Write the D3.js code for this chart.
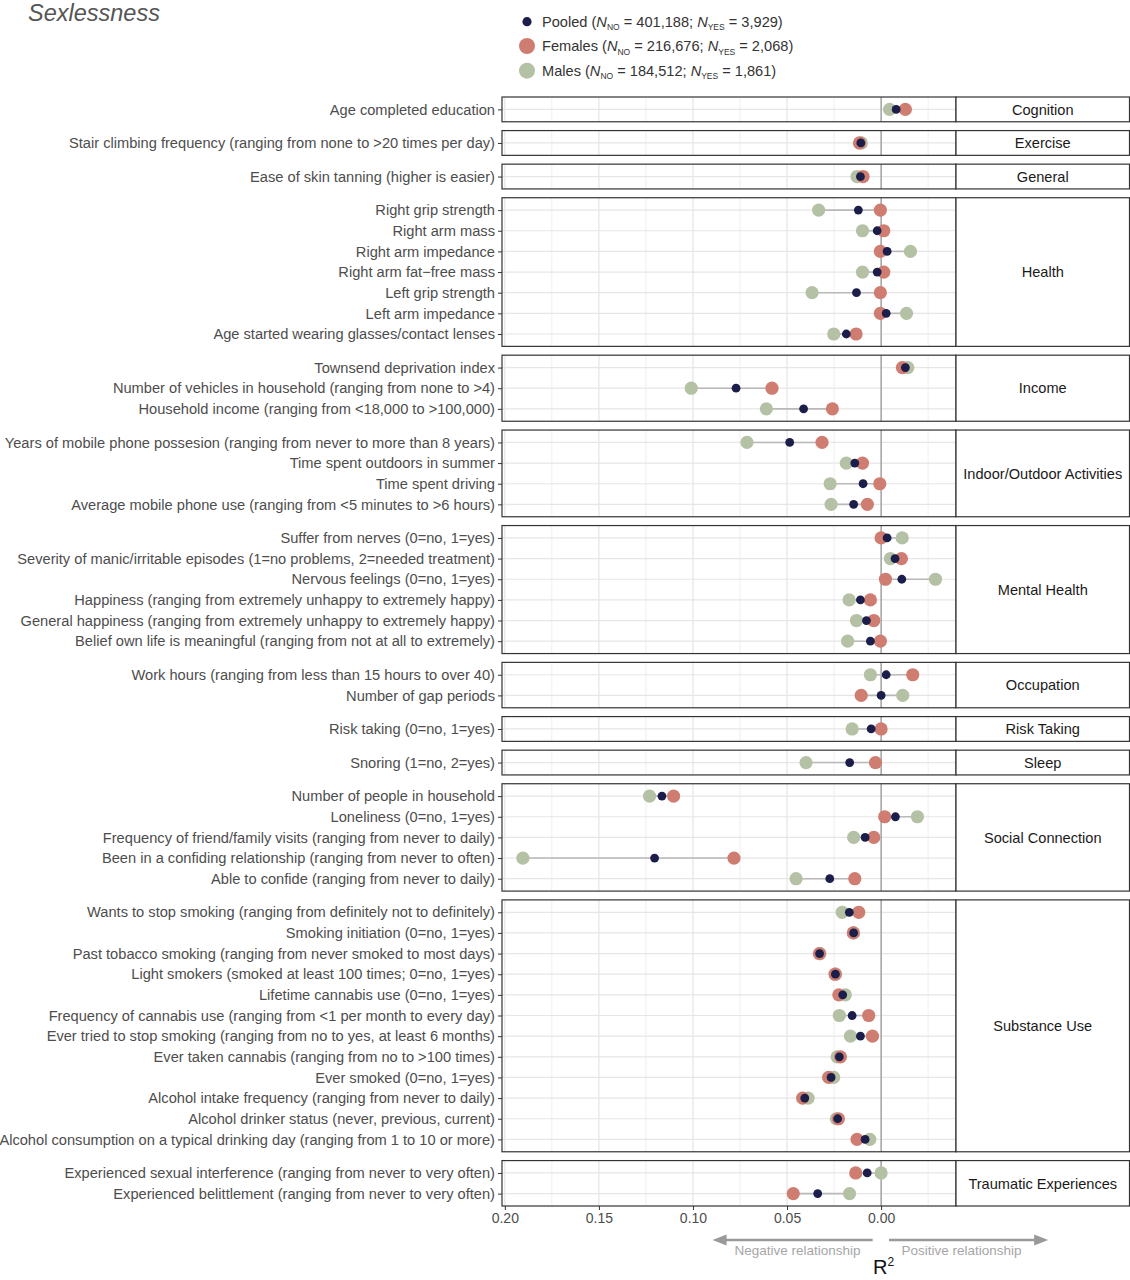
<!DOCTYPE html>
<html><head><meta charset="utf-8">
<script src="https://cdn.jsdelivr.net/npm/d3@7"></script>
<style>
body{margin:0;background:#fff}
text{font-family:"Liberation Sans",Arial,Helvetica,sans-serif}
</style>
</head><body>
<svg id="chart" width="1130" height="1280"></svg>
<script>
// ---------------- DATA ----------------
const categories = [
  "Age completed education",
  "Stair climbing frequency (ranging from none to >20 times per day)",
  "Ease of skin tanning (higher is easier)",
  "Right grip strength",
  "Right arm mass",
  "Right arm impedance",
  "Right arm fat\u2212free mass",
  "Left grip strength",
  "Left arm impedance",
  "Age started wearing glasses/contact lenses",
  "Townsend deprivation index",
  "Number of vehicles in household (ranging from none to >4)",
  "Household income (ranging from <18,000 to >100,000)",
  "Years of mobile phone possesion (ranging from never to more than 8 years)",
  "Time spent outdoors in summer",
  "Time spent driving",
  "Average mobile phone use (ranging from <5 minutes to >6 hours)",
  "Suffer from nerves (0=no, 1=yes)",
  "Severity of manic/irritable episodes (1=no problems, 2=needed treatment)",
  "Nervous feelings (0=no, 1=yes)",
  "Happiness (ranging from extremely unhappy to extremely happy)",
  "General happiness (ranging from extremely unhappy to extremely happy)",
  "Belief own life is meaningful (ranging from not at all to extremely)",
  "Work hours (ranging from less than 15 hours to over 40)",
  "Number of gap periods",
  "Risk taking (0=no, 1=yes)",
  "Snoring (1=no, 2=yes)",
  "Number of people in household",
  "Loneliness (0=no, 1=yes)",
  "Frequency of friend/family visits (ranging from never to daily)",
  "Been in a confiding relationship (ranging from never to often)",
  "Able to confide (ranging from never to daily)",
  "Wants to stop smoking (ranging from definitely not to definitely)",
  "Smoking initiation (0=no, 1=yes)",
  "Past tobacco smoking (ranging from never smoked to most days)",
  "Light smokers (smoked at least 100 times; 0=no, 1=yes)",
  "Lifetime cannabis use (0=no, 1=yes)",
  "Frequency of cannabis use (ranging from <1 per month to every day)",
  "Ever tried to stop smoking (ranging from no to yes, at least 6 months)",
  "Ever taken cannabis (ranging from no to >100 times)",
  "Ever smoked (0=no, 1=yes)",
  "Alcohol intake frequency (ranging from never to daily)",
  "Alcohol drinker status (never, previous, current)",
  "Alcohol consumption on a typical drinking day (ranging from 1 to 10 or more)",
  "Experienced sexual interference (ranging from never to very often)",
  "Experienced belittlement (ranging from never to very often)"
];
const facetOf = [
  "Cognition","Exercise","General",
  "Health","Health","Health","Health","Health","Health","Health",
  "Income","Income","Income",
  "Indoor/Outdoor Activities","Indoor/Outdoor Activities","Indoor/Outdoor Activities","Indoor/Outdoor Activities",
  "Mental Health","Mental Health","Mental Health","Mental Health","Mental Health","Mental Health",
  "Occupation","Occupation",
  "Risk Taking","Sleep",
  "Social Connection","Social Connection","Social Connection","Social Connection","Social Connection",
  "Substance Use","Substance Use","Substance Use","Substance Use","Substance Use","Substance Use",
  "Substance Use","Substance Use","Substance Use","Substance Use","Substance Use","Substance Use",
  "Traumatic Experiences","Traumatic Experiences"
];
// signed R^2 as plotted (positive = negative relationship, left side)
const pooled = [
  -0.0080, 0.0108, 0.0110,
  0.0121, 0.0021, -0.0032, 0.0021, 0.0131, -0.0027, 0.0185,
  -0.0129, 0.0771, 0.0412,
  0.0486, 0.0140, 0.0096, 0.0146,
  -0.0032, -0.0074, -0.0110, 0.0110, 0.0078, 0.0057,
  -0.0027, 0.0000,
  0.0053, 0.0167,
  0.1165, -0.0076, 0.0085, 0.1204, 0.0273,
  0.0169, 0.0146, 0.0327, 0.0243, 0.0204, 0.0154, 0.0110, 0.0222, 0.0266, 0.0406, 0.0231, 0.0085,
  0.0074, 0.0337
];
const females = [
  -0.0129, 0.0115, 0.0096,
  0.0004, -0.0014, 0.0004, -0.0014, 0.0004, 0.0004, 0.0133,
  -0.0113, 0.0580, 0.0259,
  0.0314, 0.0099, 0.0007, 0.0073,
  0.0000, -0.0108, -0.0023, 0.0057, 0.0039, 0.0004,
  -0.0168, 0.0106,
  0.0000, 0.0030,
  0.1103, -0.0019, 0.0039, 0.0782, 0.0140,
  0.0119, 0.0148, 0.0328, 0.0245, 0.0225, 0.0066, 0.0046, 0.0216, 0.0279, 0.0417, 0.0227, 0.0128,
  0.0135, 0.0467
];
const males = [
  -0.0045, 0.0105, 0.0128,
  0.0332, 0.0099, -0.0156, 0.0099, 0.0367, -0.0135, 0.0252,
  -0.0142, 0.1009, 0.0610,
  0.0713, 0.0185, 0.0271, 0.0266,
  -0.0112, -0.0049, -0.0289, 0.0170, 0.0131, 0.0178,
  0.0057, -0.0115,
  0.0154, 0.0399,
  0.1231, -0.0193, 0.0146, 0.1904, 0.0452,
  0.0207, 0.0146, 0.0325, 0.0242, 0.0190, 0.0222, 0.0163, 0.0234, 0.0252, 0.0388, 0.0238, 0.0060,
  0.0000, 0.0168
];
const xTicks = [0.20, 0.15, 0.10, 0.05, 0.00];
const xMinor = [0.175, 0.125, 0.075, 0.025, -0.025];
const seriesNames = ["Pooled", "Females", "Males"];
const nNo = ["401,188", "216,676", "184,512"];
const nYes = ["3,929", "2,068", "1,861"];

// ---------------- STYLE ----------------
const colPooled = "#1b1e4a", colFem = "#cf7d70", colMale = "#b4c1a5";
const seriesColors = [colPooled, colFem, colMale];
const txtCol = "#4d4d4d";

const svg = d3.select("#chart");
const panelL = 502, panelR = 956, stripR = 1129.5;
const panelTop = 97, panelBottom = 1206, gap = 8.8;

const x = d3.scaleLinear().domain([0.2015, -0.0398]).range([panelL, panelR]);

// facets
const facets = [];
categories.forEach((c, i) => {
  let f = facets.find(d => d.name === facetOf[i]);
  if (!f) { f = {name: facetOf[i], rows: []}; facets.push(f); }
  f.rows.push(i);
});
const totalUnits = d3.sum(facets, f => f.rows.length + 0.2);
const unit = (panelBottom - panelTop - gap * (facets.length - 1)) / totalUnits;
let yCur = panelTop;
facets.forEach(f => {
  f.y0 = yCur;
  f.h = (f.rows.length + 0.2) * unit;
  f.y = d3.scalePoint().domain(f.rows.map(i => categories[i])).range([f.y0, f.y0 + f.h]).padding(0.6);
  yCur += f.h + gap;
});

// title
svg.append("text").attr("x", 28).attr("y", 21).attr("font-size", 23.5).attr("font-style", "italic")
  .attr("fill", "#555").text("Sexlessness");

// legend
const leg = svg.append("g");
const legY = [21.7, 46, 70.7];
seriesNames.forEach((s, i) => {
  leg.append("circle").attr("cx", 527).attr("cy", legY[i]).attr("r", i === 0 ? 4.6 : 8)
    .attr("fill", seriesColors[i]);
  const t = leg.append("text").attr("x", 542).attr("y", legY[i] + 5).attr("font-size", 14.6).attr("fill", "#333");
  t.append("tspan").text(s + " (");
  t.append("tspan").attr("font-style", "italic").text("N");
  t.append("tspan").attr("font-size", 8.5).attr("dy", 3.5).text("NO");
  t.append("tspan").attr("dy", -3.5).text(" = " + nNo[i] + "; ");
  t.append("tspan").attr("font-style", "italic").text("N");
  t.append("tspan").attr("font-size", 8.5).attr("dy", 3.5).text("YES");
  t.append("tspan").attr("dy", -3.5).text(" = " + nYes[i] + ")");
});

// panels
facets.forEach(f => {
  const g = svg.append("g");
  const y = f.y;
  const y1 = f.y0 + f.h;
  g.append("rect").attr("x", panelL).attr("y", f.y0).attr("width", panelR - panelL).attr("height", f.h).attr("fill", "#fff");
  g.selectAll(".mn").data(xMinor).join("line")
    .attr("x1", d => x(d)).attr("x2", d => x(d)).attr("y1", f.y0).attr("y2", y1)
    .attr("stroke", "#efefef").attr("stroke-width", 1);
  g.selectAll(".mj").data(xTicks).join("line")
    .attr("x1", d => x(d)).attr("x2", d => x(d)).attr("y1", f.y0).attr("y2", y1)
    .attr("stroke", "#e4e4e4").attr("stroke-width", 1.2);
  g.selectAll(".hz").data(f.rows).join("line")
    .attr("x1", panelL).attr("x2", panelR).attr("y1", i => y(categories[i])).attr("y2", i => y(categories[i]))
    .attr("stroke", "#e6e6e6").attr("stroke-width", 1.2);
  g.append("line").attr("x1", x(0)).attr("x2", x(0)).attr("y1", f.y0).attr("y2", y1)
    .attr("stroke", "#8c8c8c").attr("stroke-width", 1.1);
  // segments
  g.selectAll(".seg").data(f.rows).join("line")
    .attr("x1", i => x(Math.min(pooled[i], females[i], males[i])))
    .attr("x2", i => x(Math.max(pooled[i], females[i], males[i])))
    .attr("y1", i => y(categories[i])).attr("y2", i => y(categories[i]))
    .attr("stroke", "#b9b9b9").attr("stroke-width", 1.6);
  // points
  g.selectAll(".m").data(f.rows).join("circle")
    .attr("cx", i => x(males[i])).attr("cy", i => y(categories[i])).attr("r", 6.6).attr("fill", colMale);
  g.selectAll(".f").data(f.rows).join("circle")
    .attr("cx", i => x(females[i])).attr("cy", i => y(categories[i])).attr("r", 6.6).attr("fill", colFem);
  g.selectAll(".p").data(f.rows).join("circle")
    .attr("cx", i => x(pooled[i])).attr("cy", i => y(categories[i])).attr("r", 4.4).attr("fill", colPooled);
  // border
  g.append("rect").attr("x", panelL).attr("y", f.y0).attr("width", panelR - panelL).attr("height", f.h)
    .attr("fill", "none").attr("stroke", "#333").attr("stroke-width", 1.2);
  // y axis
  const ax = g.append("g").attr("transform", `translate(${panelL},0)`)
    .call(d3.axisLeft(y).tickSize(4).tickPadding(3));
  ax.select(".domain").remove();
  ax.selectAll(".tick line").attr("stroke", "#333").attr("stroke-width", 1);
  ax.selectAll(".tick text").attr("fill", txtCol).attr("font-size", 14.65)
    .attr("font-family", '"Liberation Sans",Arial,sans-serif');
  // strip
  g.append("rect").attr("x", panelR).attr("y", f.y0).attr("width", stripR - panelR).attr("height", f.h)
    .attr("fill", "#fff").attr("stroke", "#333").attr("stroke-width", 1.2);
  g.append("text").attr("x", (panelR + stripR) / 2).attr("y", f.y0 + f.h / 2).attr("dy", "0.36em")
    .attr("text-anchor", "middle").attr("font-size", 14.6).attr("fill", "#1a1a1a").text(f.name);
});

// x axis
const xa = svg.append("g").attr("transform", `translate(0,${panelBottom})`)
  .call(d3.axisBottom(x).tickValues(xTicks).tickFormat(d3.format(".2f")).tickSize(4).tickPadding(3));
xa.select(".domain").remove();
xa.selectAll(".tick line").attr("stroke", "#333");
xa.selectAll(".tick text").attr("fill", txtCol).attr("font-size", 14)
  .attr("font-family", '"Liberation Sans",Arial,sans-serif');

// direction arrows
const arrCol = "#999";
const ay = 1240;
function arrow(xs, xe) {
  const dir = xe > xs ? 1 : -1;
  svg.append("line").attr("x1", xs).attr("x2", xe - dir * 10).attr("y1", ay).attr("y2", ay)
    .attr("stroke", arrCol).attr("stroke-width", 2.4);
  svg.append("path").attr("d", `M${xe},${ay} L${xe - dir * 14},${ay - 5.5} L${xe - dir * 14},${ay + 5.5} Z`)
    .attr("fill", arrCol);
}
arrow(x(0.0045), x(0.0896));
arrow(x(-0.0042), x(-0.0888));
svg.append("text").attr("x", (x(0.0045) + x(0.0896)) / 2 + 5).attr("y", 1255).attr("text-anchor", "middle")
  .attr("font-size", 13.5).attr("fill", "#a6a6a6").text("Negative relationship");
svg.append("text").attr("x", (x(-0.0042) + x(-0.0888)) / 2 - 7).attr("y", 1255).attr("text-anchor", "middle")
  .attr("font-size", 13.5).attr("fill", "#a6a6a6").text("Positive relationship");
const r2 = svg.append("text").attr("x", 873).attr("y", 1274).attr("font-size", 20).attr("fill", "#111");
r2.append("tspan").text("R");
r2.append("tspan").attr("font-size", 12).attr("dy", -8).text("2");
</script>
</body></html>
